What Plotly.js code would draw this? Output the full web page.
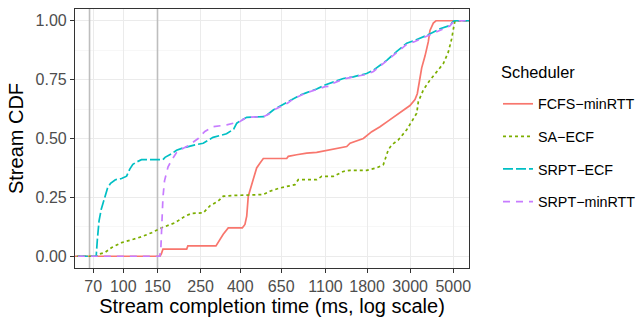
<!DOCTYPE html>
<html>
<head>
<meta charset="utf-8">
<script src="https://cdn.plot.ly/plotly-3.0.1.min.js"></script>
<style>html,body{margin:0;padding:0;background:#fff;}#chart{width:637px;height:320px;}</style>
</head>
<body>
<div id="chart"></div>
<script>
// Scheduler names
const schedulers = ["FCFS\u2212minRTT", "SA\u2212ECF", "SRPT\u2212ECF", "SRPT\u2212minRTT"];

// Stream completion time (ms) / CDF breakpoints
const fcfsX = [50,154.5,157,160,212,215,300,308,327,347,410,423,432,440,467,486,506,526,694,707,781,880,990,1115,1256,1414,1471,1722,1902,2098,2315,2557,2765,2993,3176,3264,3343,3439,3576,3718,3794,3947,4075,7000];
const fcfsY = [0,0,0.01,0.03,0.03,0.044,0.044,0.06,0.093,0.12,0.12,0.135,0.17,0.255,0.325,0.375,0.396,0.415,0.415,0.424,0.431,0.438,0.441,0.449,0.459,0.466,0.48,0.50,0.529,0.55,0.575,0.60,0.62,0.64,0.665,0.69,0.74,0.80,0.85,0.91,0.959,0.99,1,1];

const saX = [50,72.9,74.3,80.5,87.2,98.1,112.6,124.4,140,157.7,184.6,207.8,225,258,280,308,327,368,526,569,641,766,796,990,1051,1206,1358,1471,1790,2018,2183,2315,2410,2606,2878,3054,3241,3304,3505,3794,4109,4444,4715,4909,5045,5105,7000];
const saY = [0,0,0.008,0.016,0.037,0.058,0.072,0.083,0.10,0.121,0.142,0.17,0.182,0.184,0.215,0.234,0.255,0.258,0.262,0.276,0.29,0.304,0.325,0.325,0.339,0.339,0.36,0.365,0.365,0.375,0.389,0.452,0.473,0.494,0.537,0.572,0.607,0.656,0.706,0.748,0.783,0.818,0.867,0.924,0.98,1,1];

const srptEcfX = [50,72.5,73.5,75,77,80,83,86,91,98,104,108,112,117,124,160,164,177,188,200,208,217,234,258,290,340,370,384,400,432,530,560,592,700,750,812,880,990,1093,1206,1358,1529,1790,1940,2272,2560,2880,3176,3650,4273,4800,5003,5105,7000];
const srptEcfY = [0,0,0.07,0.15,0.20,0.25,0.29,0.31,0.325,0.33,0.34,0.37,0.39,0.40,0.41,0.41,0.42,0.435,0.45,0.458,0.462,0.468,0.473,0.48,0.505,0.52,0.54,0.565,0.575,0.59,0.593,0.605,0.621,0.655,0.67,0.684,0.695,0.71,0.727,0.741,0.755,0.762,0.776,0.79,0.832,0.87,0.905,0.917,0.938,0.966,0.98,0.998,1,1];

const srptMinX = [50,154,156,158,160,163,170,178,188,200,216,243,263,291,341,399,432,526,560,592,700,750,812,880,990,1093,1160,1206,1358,1529,1790,1940,2272,2560,2880,3176,3650,4273,4800,5003,5105,7000];
const srptMinY = [0,0,0.03,0.15,0.25,0.32,0.38,0.41,0.44,0.455,0.47,0.50,0.53,0.55,0.558,0.572,0.59,0.593,0.603,0.62,0.65,0.668,0.682,0.695,0.708,0.72,0.722,0.735,0.752,0.762,0.772,0.785,0.83,0.866,0.9,0.912,0.935,0.962,0.978,0.995,1,1];

// Reference vertical lines (ms)
const vlineX = [67, 150];

// Axis ticks
const xTicks = [70,100,150,250,400,650,1100,1800,3000,5000];
const xTickText = ["70","100","150","250","400","650","1100","1800","3000","5000"];
const yTicks = [0,0.25,0.5,0.75,1];
const yTickText = ["0.00","0.25","0.50","0.75","1.00"];

const colors = ["#F8766D","#7CAE00","#00BFC4","#C77CFF"];
const dashes = ["solid","3px,3px","10px,3px","7px,6px"];
const seriesX = [fcfsX, saX, srptEcfX, srptMinX];
const seriesY = [fcfsY, saY, srptEcfY, srptMinY];

const traces = [];
vlineX.forEach(v => {
  traces.push({x:[v,v], y:[-0.2,1.2], mode:"lines", line:{color:"#BEBEBE", width:1.6}, showlegend:false, hoverinfo:"skip"});
});
schedulers.forEach((name,i) => {
  traces.push({
    x: seriesX[i], y: seriesY[i], name: name, mode: "lines", legendgroup: "g"+i,
    line: {color: colors[i], width: 1.7, dash: dashes[i]}
  });
});

const layout = {
  width: 637, height: 320,
  margin: {l:75, r:168, t:9, b:52, autoexpand: false},
  paper_bgcolor: "#ffffff", plot_bgcolor: "#ffffff",
  font: {family: "Liberation Sans, Arial, sans-serif", color: "#000000"},
  xaxis: {
    type: "log", range: [Math.log10(56.4), Math.log10(6026)],
    tickmode: "array", tickvals: xTicks, ticktext: xTickText,
    tickfont: {size: 16, color: "#4D4D4D"},
    ticks: "outside", ticklen: 4, tickcolor: "#333333", tickwidth: 1,
    showgrid: true, gridcolor: "#EBEBEB", gridwidth: 1.1,
    showline: true, linecolor: "#333333", linewidth: 1.1, mirror: true,
    zeroline: false, automargin: false,
    title: {text: "Stream completion time (ms, log scale)", font: {size: 20, color: "#000000"}, standoff: 4}
  },
  yaxis: {
    range: [-0.05, 1.05],
    tickmode: "array", tickvals: yTicks, ticktext: yTickText,
    tickfont: {size: 16, color: "#4D4D4D"},
    ticks: "outside", ticklen: 4, tickcolor: "#333333", tickwidth: 1,
    showgrid: true, gridcolor: "#EBEBEB", gridwidth: 1.1,
    minor: {tickmode: "array", tickvals: [0.125,0.375,0.625,0.875], showgrid: true, gridcolor: "#F2F2F2", gridwidth: 0.6, ticks: ""},
    showline: true, linecolor: "#333333", linewidth: 1.1, mirror: true,
    zeroline: false, automargin: false,
    title: {text: "Stream CDF", font: {size: 20, color: "#000000"}, standoff: 6}
  },
  showlegend: true,
  legend: {
    x: 1.0736, xanchor: "left", y: 0.695, yanchor: "top",
    font: {size: 14.3, color: "#000000"},
    tracegroupgap: 11, bgcolor: "rgba(0,0,0,0)"
  },
  annotations: [{
    text: "Scheduler", xref: "paper", yref: "paper", x: 1.0761, y: 0.757,
    xanchor: "left", yanchor: "middle", showarrow: false,
    font: {size: 16.4, color: "#000000"}
  }]
};

Plotly.newPlot("chart", traces, layout, {staticPlot: true, displayModeBar: false});
</script>
</body>
</html>
